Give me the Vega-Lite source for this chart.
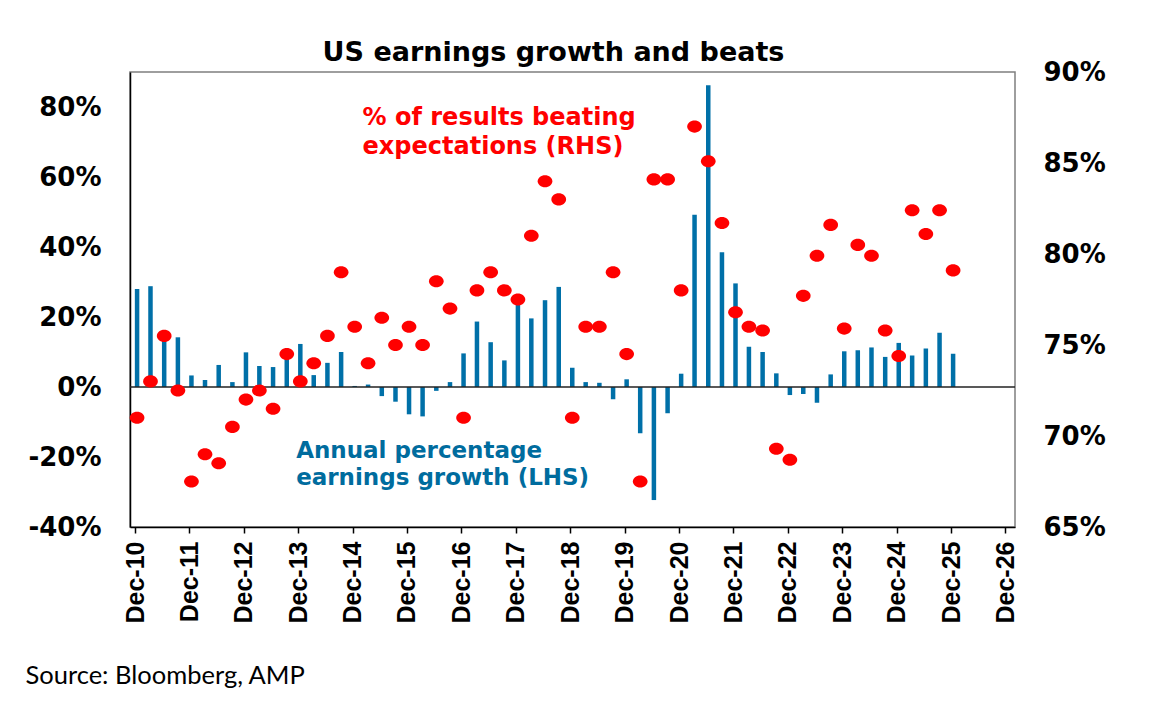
{
  "$schema": "https://vega.github.io/schema/vega-lite/v6.json",
  "width": 885,
  "height": 455,
  "autosize": "none",
  "padding": {"left": 130, "top": 72, "right": 134, "bottom": 177},
  "background": "white",
  "config": {
    "view": {"stroke": "#7f7f7f", "strokeWidth": 1.5},
    "font": "DejaVu Sans"
  },
  "title": {
    "text": "US earnings growth and beats",
    "font": "DejaVu Sans",
    "fontSize": 27,
    "fontWeight": "bold",
    "color": "black",
    "anchor": "middle",
    "dx": -19,
    "offset": -8
  },
  "data": {
    "values": [
      {"date": "2010-12-15", "growth": 28.0, "beat": 71.0},
      {"date": "2011-03-15", "growth": 28.8, "beat": 73.0},
      {"date": "2011-06-15", "growth": 14.5, "beat": 75.5},
      {"date": "2011-09-15", "growth": 14.2, "beat": 72.5},
      {"date": "2011-12-15", "growth": 3.3, "beat": 67.5},
      {"date": "2012-03-15", "growth": 2.0, "beat": 69.0},
      {"date": "2012-06-15", "growth": 6.3, "beat": 68.5},
      {"date": "2012-09-15", "growth": 1.4, "beat": 70.5},
      {"date": "2012-12-15", "growth": 9.9, "beat": 72.0},
      {"date": "2013-03-15", "growth": 6.0, "beat": 72.5},
      {"date": "2013-06-15", "growth": 5.7, "beat": 71.5},
      {"date": "2013-09-15", "growth": 8.8, "beat": 74.5},
      {"date": "2013-12-15", "growth": 12.3, "beat": 73.0},
      {"date": "2014-03-15", "growth": 3.4, "beat": 74.0},
      {"date": "2014-06-15", "growth": 6.9, "beat": 75.5},
      {"date": "2014-09-15", "growth": 10.0, "beat": 79.0},
      {"date": "2014-12-15", "growth": 0.3, "beat": 76.0},
      {"date": "2015-03-15", "growth": 0.7, "beat": 74.0},
      {"date": "2015-06-15", "growth": -2.6, "beat": 76.5},
      {"date": "2015-09-15", "growth": -4.2, "beat": 75.0},
      {"date": "2015-12-15", "growth": -7.8, "beat": 76.0},
      {"date": "2016-03-15", "growth": -8.4, "beat": 75.0},
      {"date": "2016-06-15", "growth": -1.1, "beat": 78.5},
      {"date": "2016-09-15", "growth": 1.4, "beat": 77.0},
      {"date": "2016-12-15", "growth": 9.6, "beat": 71.0},
      {"date": "2017-03-15", "growth": 18.7, "beat": 78.0},
      {"date": "2017-06-15", "growth": 12.8, "beat": 79.0},
      {"date": "2017-09-15", "growth": 7.6, "beat": 78.0},
      {"date": "2017-12-15", "growth": 24.0, "beat": 77.5},
      {"date": "2018-03-15", "growth": 19.6, "beat": 81.0},
      {"date": "2018-06-15", "growth": 24.8, "beat": 84.0},
      {"date": "2018-09-15", "growth": 28.6, "beat": 83.0},
      {"date": "2018-12-15", "growth": 5.5, "beat": 71.0},
      {"date": "2019-03-15", "growth": 1.4, "beat": 76.0},
      {"date": "2019-06-15", "growth": 1.2, "beat": 76.0},
      {"date": "2019-09-15", "growth": -3.5, "beat": 79.0},
      {"date": "2019-12-15", "growth": 2.2, "beat": 74.5},
      {"date": "2020-03-15", "growth": -13.2, "beat": 67.5},
      {"date": "2020-06-15", "growth": -32.3, "beat": 84.1},
      {"date": "2020-09-15", "growth": -7.5, "beat": 84.1},
      {"date": "2020-12-15", "growth": 3.8, "beat": 78.0},
      {"date": "2021-03-15", "growth": 49.2, "beat": 87.0},
      {"date": "2021-06-15", "growth": 86.2, "beat": 85.1},
      {"date": "2021-09-15", "growth": 38.5, "beat": 81.7},
      {"date": "2021-12-15", "growth": 29.6, "beat": 76.8},
      {"date": "2022-03-15", "growth": 11.5, "beat": 76.0},
      {"date": "2022-06-15", "growth": 10.0, "beat": 75.8},
      {"date": "2022-09-15", "growth": 3.9, "beat": 69.3},
      {"date": "2022-12-15", "growth": -2.3, "beat": 68.7},
      {"date": "2023-03-15", "growth": -2.0, "beat": 77.7},
      {"date": "2023-06-15", "growth": -4.5, "beat": 79.9},
      {"date": "2023-09-15", "growth": 3.6, "beat": 81.6},
      {"date": "2023-12-15", "growth": 10.2, "beat": 75.9},
      {"date": "2024-03-15", "growth": 10.5, "beat": 80.5},
      {"date": "2024-06-15", "growth": 11.3, "beat": 79.9},
      {"date": "2024-09-15", "growth": 8.6, "beat": 75.8},
      {"date": "2024-12-15", "growth": 12.6, "beat": 74.4},
      {"date": "2025-03-15", "growth": 9.0, "beat": 82.4},
      {"date": "2025-06-15", "growth": 11.0, "beat": 81.1},
      {"date": "2025-09-15", "growth": 15.5, "beat": 82.4},
      {"date": "2025-12-15", "growth": 9.5, "beat": 79.1}
    ]
  },
  "layer": [
    {
      "layer": [
        {
          "mark": {"type": "bar", "width": 4.5, "color": "#0070a8"},
          "encoding": {
            "x": {
              "field": "date",
              "type": "temporal",
              "scale": {"domain": [{"year": 2010, "month": 12, "date": 1}, {"year": 2027, "month": 1, "date": 1}]},
              "axis": {
                "values": [
                  {"year": 2010, "month": 12, "date": 1}, {"year": 2011, "month": 12, "date": 1},
                  {"year": 2012, "month": 12, "date": 1}, {"year": 2013, "month": 12, "date": 1},
                  {"year": 2014, "month": 12, "date": 1}, {"year": 2015, "month": 12, "date": 1},
                  {"year": 2016, "month": 12, "date": 1}, {"year": 2017, "month": 12, "date": 1},
                  {"year": 2018, "month": 12, "date": 1}, {"year": 2019, "month": 12, "date": 1},
                  {"year": 2020, "month": 12, "date": 1}, {"year": 2021, "month": 12, "date": 1},
                  {"year": 2022, "month": 12, "date": 1}, {"year": 2023, "month": 12, "date": 1},
                  {"year": 2024, "month": 12, "date": 1}, {"year": 2025, "month": 12, "date": 1},
                  {"year": 2026, "month": 12, "date": 1}
                ],
                "format": "%b-%y",
                "labelAngle": -90,
                "labelFont": "Liberation Sans",
                "labelFontSize": 25,
                "labelFontWeight": "bold",
                "labelColor": "black",
                "labelPadding": 8,
                "labelOverlap": false,
                "labelFlush": false,
                "tickSize": 6,
                "tickColor": "black",
                "tickWidth": 1.5,
                "domainColor": "black",
                "domainWidth": 1.5,
                "grid": false,
                "title": "Source: Bloomberg, AMP",
                "titleFont": "Lato",
                "titleFontSize": 25.5,
                "titleFontWeight": "normal",
                "titleColor": "black",
                "titleAlign": "left",
                "titleBaseline": "alphabetic",
                "titleAnchor": "start",
                "titleX": -105,
                "titleY": 156
              }
            },
            "y": {
              "field": "growth",
              "type": "quantitative",
              "scale": {"domain": [-40, 90], "nice": false, "zero": false},
              "axis": {
                "orient": "left",
                "values": [-40, -20, 0, 20, 40, 60, 80],
                "labelExpr": "datum.value + '%'",
                "labelFont": "DejaVu Sans",
                "labelFontSize": 26,
                "labelFontWeight": "bold",
                "labelColor": "black",
                "labelPadding": 29,
                "ticks": false,
                "grid": false,
                "domainColor": "black",
                "domainWidth": 1.5,
                "title": null
              }
            }
          }
        },
        {
          "data": {"values": [{}]},
          "mark": {"type": "rule", "color": "#222222", "strokeWidth": 1.5},
          "encoding": {"y": {"datum": 0, "type": "quantitative"}}
        },
        {
          "data": {"values": [{"date": "2013-11-17", "value": -20.4, "label": "Annual percentage\nearnings growth (LHS)"}]},
          "mark": {
            "type": "text",
            "lineBreak": "\n",
            "align": "left",
            "baseline": "alphabetic",
            "lineHeight": 27,
            "font": "DejaVu Sans",
            "fontSize": 23,
            "fontWeight": "bold",
            "color": "#006c9e"
          },
          "encoding": {
            "x": {"field": "date", "type": "temporal"},
            "y": {"field": "value", "type": "quantitative"},
            "text": {"field": "label"}
          }
        }
      ]
    },
    {
      "layer": [
        {
          "mark": {
            "type": "point",
            "filled": true,
            "opacity": 1,
            "color": "#ff0000",
            "shape": "M-1,0A1,0.82,0,1,0,1,0A1,0.82,0,1,0,-1,0Z",
            "size": 216
          },
          "encoding": {
            "x": {"field": "date", "type": "temporal"},
            "y": {
              "field": "beat",
              "type": "quantitative",
              "scale": {"domain": [65, 90], "nice": false, "zero": false},
              "axis": {
                "orient": "right",
                "values": [65, 70, 75, 80, 85, 90],
                "labelExpr": "datum.value + '%'",
                "labelFont": "DejaVu Sans",
                "labelFontSize": 26,
                "labelFontWeight": "bold",
                "labelColor": "black",
                "labelPadding": 28,
                "ticks": false,
                "grid": false,
                "domain": false,
                "title": null
              }
            }
          }
        },
        {
          "data": {"values": [{"date": "2015-02-06", "value": 87.09, "label": "% of results beating\nexpectations (RHS)"}]},
          "mark": {
            "type": "text",
            "lineBreak": "\n",
            "align": "left",
            "baseline": "alphabetic",
            "lineHeight": 29,
            "font": "DejaVu Sans",
            "fontSize": 24,
            "fontWeight": "bold",
            "color": "#ff0000"
          },
          "encoding": {
            "x": {"field": "date", "type": "temporal"},
            "y": {"field": "value", "type": "quantitative"},
            "text": {"field": "label"}
          }
        }
      ]
    }
  ],
  "resolve": {"scale": {"y": "independent"}}
}
